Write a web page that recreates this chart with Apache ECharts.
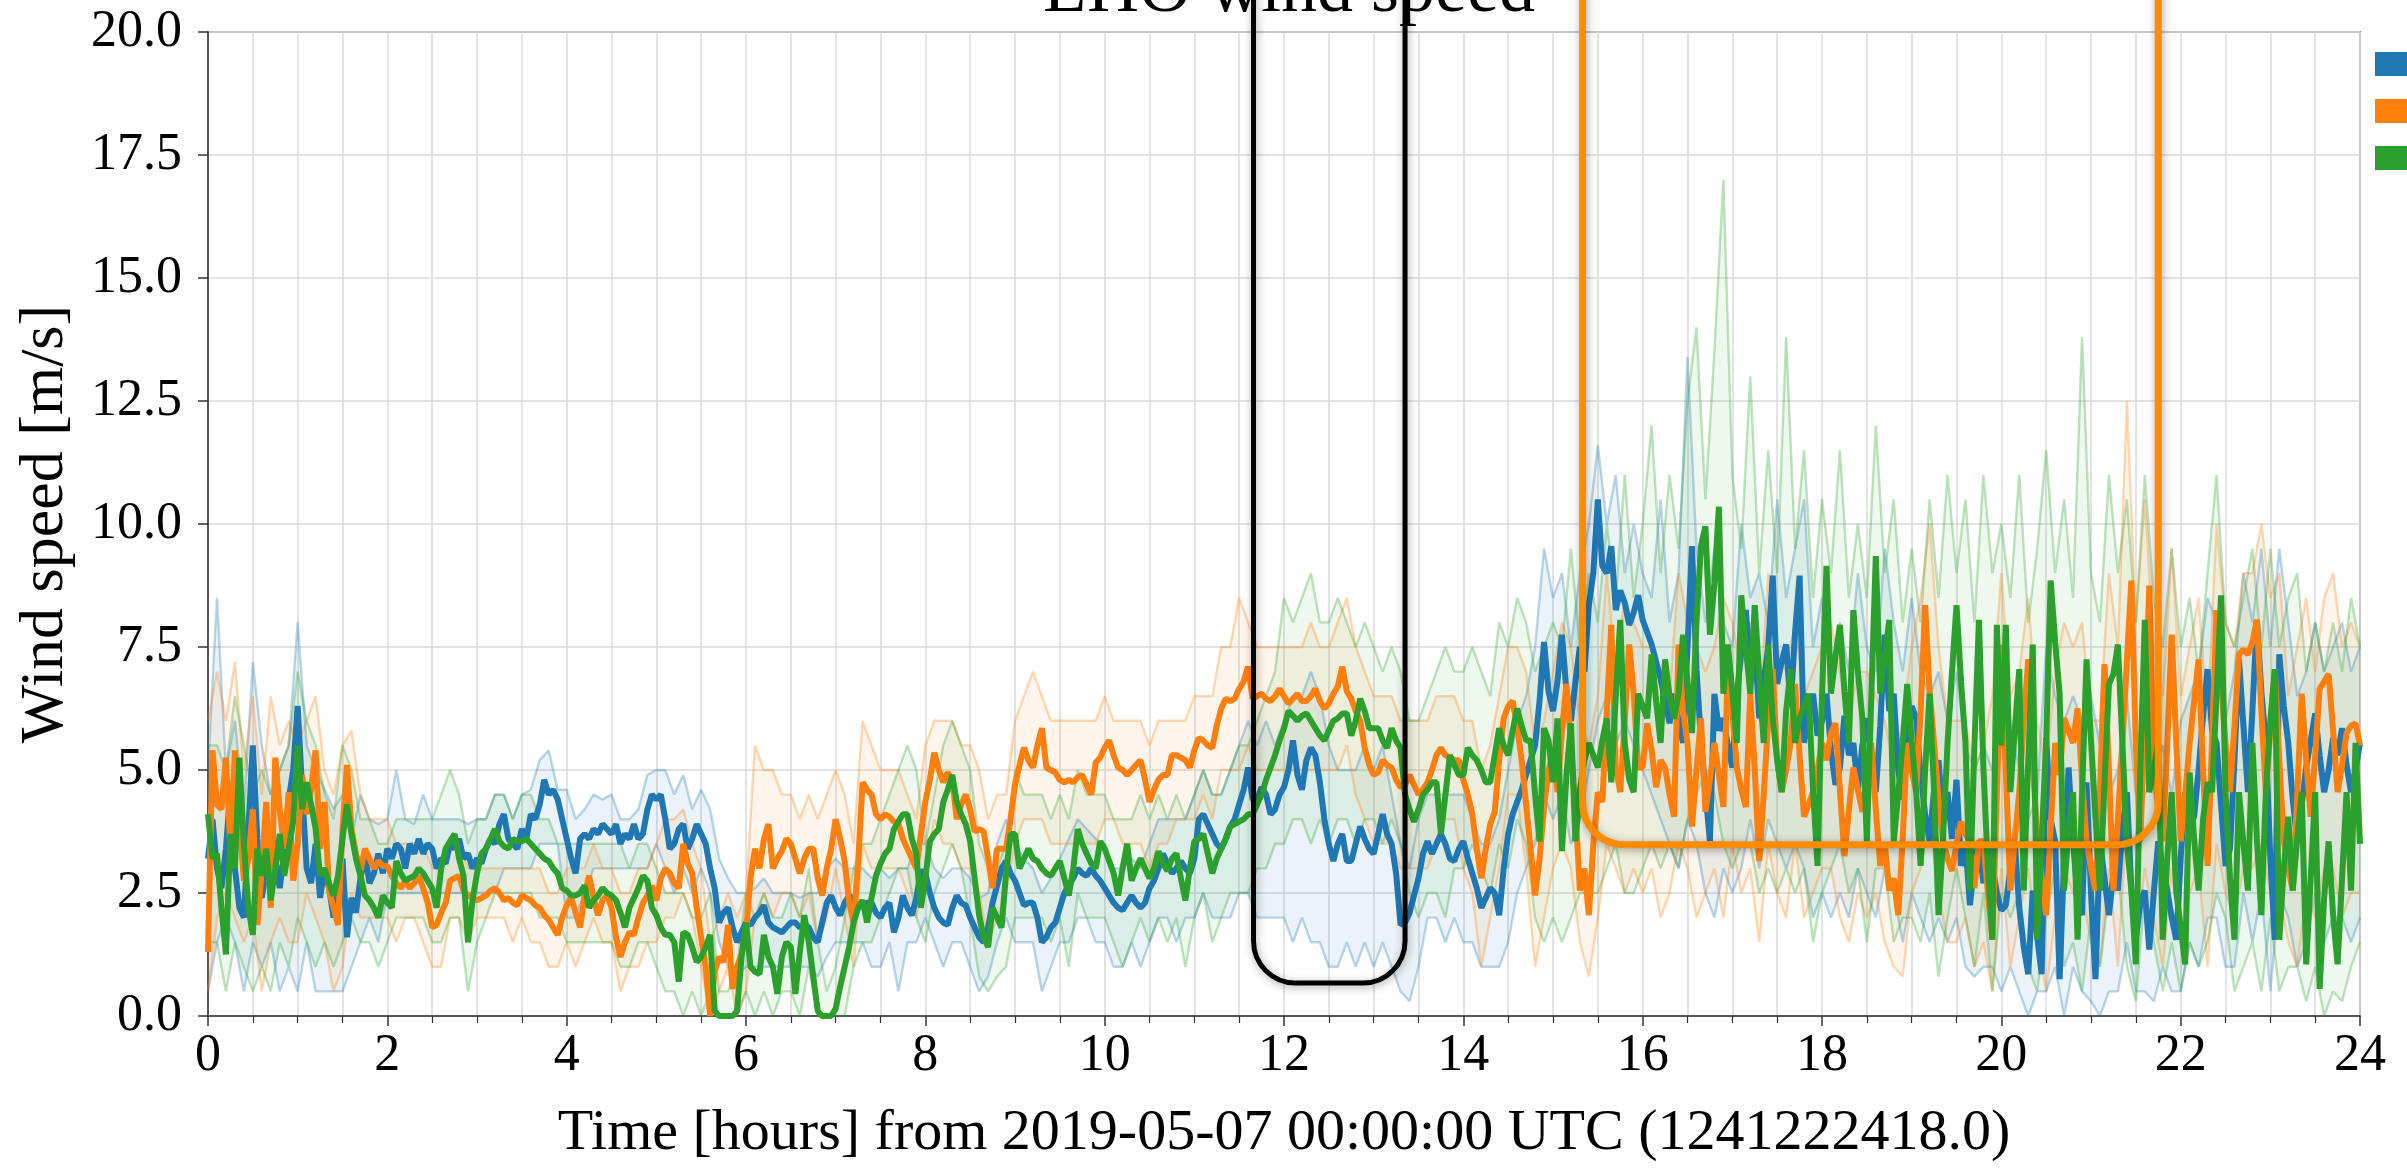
<!DOCTYPE html>
<html>
<head>
<meta charset="utf-8">
<script src="https://cdn.jsdelivr.net/npm/echarts@6/dist/echarts.min.js"></script>
<style>
html,body{margin:0;padding:0;background:#fff;}
#c{width:2407px;height:1168px;}
</style>
</head>
<body>
<div id="c"></div>
<script>
// ---------------- DATA ----------------
const seriesNames = ['EX', 'EY', 'CS'];
const xTicks = [0, 2, 4, 6, 8, 10, 12, 14, 16, 18, 20, 22, 24];
const yTicks = [0, 2.5, 5, 7.5, 10, 12.5, 15, 17.5, 20];
const MEAN_STEP = 0.05;  // hours between mean samples
const BAND_STEP = 0.1;   // hours between min/max samples

// mean wind speed [m/s], one row per hour (20 samples), last value at 24 h
const blueMean = [
3.2,4.0,3.0,2.6,3.4,4.6,3.0,2.2,2.0,3.8,5.5,3.6,2.4,3.0,3.9,3.2,2.6,3.3,4.4,5.0,
6.3,4.6,3.0,2.7,3.5,2.4,3.0,2.6,2.0,2.6,3.2,1.6,2.4,2.1,2.8,3.3,2.7,2.9,3.3,2.9,
3.4,3.2,3.5,3.4,3.0,3.5,3.3,3.6,3.3,3.5,3.4,3.0,3.2,3.1,3.5,3.4,3.6,3.2,3.3,3.0,
3.2,3.1,3.4,3.6,3.5,3.9,4.1,3.6,3.5,3.4,3.8,3.6,4.1,4.0,4.3,4.8,4.5,4.6,4.4,4.0,
3.6,3.2,2.9,3.6,3.7,3.6,3.8,3.7,3.9,3.8,3.7,3.9,3.5,3.7,3.6,3.9,3.6,3.7,4.2,4.5,
4.4,4.5,4.0,3.4,3.5,3.8,3.9,3.4,3.6,3.9,3.7,3.5,3.0,2.6,1.9,2.1,2.2,1.8,1.5,1.7,
1.9,1.85,2.0,2.1,2.25,1.9,1.8,1.75,1.7,1.8,1.9,1.9,1.8,1.85,1.8,1.6,1.5,1.9,2.3,2.45,
2.2,2.05,2.3,2.45,2.35,2.2,2.25,2.3,2.3,2.1,2.0,2.2,2.3,1.7,2.0,2.45,2.2,2.05,2.4,2.95,
2.9,2.5,2.2,2.0,1.9,1.85,2.2,2.45,2.3,2.25,2.0,1.8,1.6,1.5,1.8,2.3,2.65,3.0,3.15,2.9,
2.75,2.5,2.25,2.3,2.3,2.0,1.5,1.6,1.8,1.9,2.2,2.5,2.65,2.8,3.0,2.9,2.85,3.0,2.85,2.75,
2.6,2.45,2.3,2.2,2.15,2.3,2.45,2.3,2.2,2.3,2.6,2.75,3.0,3.3,3.1,2.9,3.0,3.15,3.0,2.9,
3.2,4.0,4.1,3.9,3.7,3.5,3.4,3.6,3.85,4.0,4.3,4.6,5.05,4.4,4.4,4.65,4.5,4.1,4.2,4.5,
4.65,5.0,5.6,4.9,4.6,5.2,5.45,5.3,4.75,4.0,3.5,3.15,3.5,3.7,3.15,3.15,3.5,3.85,3.6,3.4,
3.3,3.7,4.1,3.7,3.5,2.9,1.85,1.9,2.1,2.45,2.8,3.3,3.55,3.3,3.5,3.7,3.5,3.2,3.15,3.4,
3.55,3.2,2.9,2.6,2.2,2.4,2.6,2.5,2.05,3.0,3.7,4.1,4.35,4.6,4.9,5.2,5.5,6.4,7.6,6.6,
6.2,6.8,7.75,6.6,6.0,6.8,7.5,7.0,8.35,9.0,10.5,9.15,9.0,9.55,8.25,8.65,8.4,7.95,8.2,8.55,
8.05,7.8,7.55,7.2,6.85,6.4,5.95,6.55,6.0,5.55,7.5,9.55,7.05,5.6,4.55,3.55,6.55,5.8,6.05,5.5,
5.05,6.5,7.4,8.25,7.05,7.6,6.05,6.8,7.5,8.95,6.75,7.2,7.55,6.3,7.8,8.95,5.55,6.2,6.55,5.7,
6.0,6.55,5.4,4.7,5.05,6.1,5.3,5.55,4.6,5.5,6.05,5.2,4.55,5.9,7.75,6.2,6.55,5.0,4.4,5.55,
6.3,6.05,4.9,4.1,3.55,4.6,5.2,4.0,4.55,3.6,4.8,3.05,3.5,2.25,3.1,3.55,2.7,3.5,3.05,2.5,
2.15,2.25,3.0,3.55,2.2,1.4,0.85,2.55,1.6,0.85,5.65,4.0,3.55,0.75,3.2,5.05,3.55,2.4,2.05,4.75,
2.5,0.75,3.55,2.8,2.05,2.9,2.55,3.8,4.55,2.6,1.55,2.3,2.55,1.35,2.5,3.55,3.0,2.55,2.0,1.55,
3.2,4.55,3.9,4.05,5.0,6.1,7.05,5.8,5.55,4.3,3.05,3.4,5.2,7.25,5.9,4.55,6.2,8.05,6.6,5.55,
3.2,1.55,7.35,6.3,5.55,4.4,3.55,4.3,5.05,5.6,6.15,5.3,4.55,5.0,5.65,5.3,5.85,5.1,4.55,5.0,
5.55];

const orangeMean = [
1.3,5.4,4.3,4.2,5.25,3.4,5.4,4.0,2.75,3.2,4.2,1.85,3.0,4.35,2.2,5.25,4.2,3.4,4.55,2.75,
3.5,4.9,4.1,4.6,5.4,3.4,4.35,2.55,2.2,1.85,3.8,5.1,3.8,3.3,2.95,3.4,3.2,3.0,3.15,3.05,
3.05,2.85,2.7,2.6,2.75,2.6,2.7,2.85,2.6,2.3,1.8,1.85,2.1,2.3,2.75,2.8,2.85,2.55,2.45,2.4,
2.35,2.4,2.45,2.55,2.6,2.5,2.35,2.4,2.3,2.25,2.45,2.4,2.35,2.25,2.2,2.05,1.95,1.8,1.65,2.0,
2.25,2.4,2.1,1.8,2.45,2.85,2.4,2.05,2.35,2.45,2.2,1.6,1.2,1.5,1.7,1.65,2.0,2.3,2.45,2.65,
2.35,2.8,3.0,2.9,2.7,2.6,3.5,3.1,2.9,2.2,1.6,1.0,0.0,0.9,1.2,1.1,1.85,0.55,1.0,1.25,
1.7,2.8,3.4,3.0,3.6,3.9,3.0,3.2,3.35,3.6,3.5,3.2,2.9,3.2,3.4,3.4,2.8,2.45,3.0,3.4,
4.0,3.6,3.15,2.3,1.9,3.1,4.75,4.6,4.5,4.1,4.0,4.1,4.05,3.95,3.9,3.6,3.4,3.2,3.0,3.7,
4.35,4.8,5.35,5.0,4.75,4.95,4.8,4.0,4.3,4.5,4.2,3.75,3.8,3.75,3.2,2.6,3.4,3.4,3.4,4.0,
4.7,5.1,5.45,5.2,5.05,5.5,5.85,5.05,5.0,4.95,4.8,4.75,4.8,4.75,4.85,4.9,4.7,4.5,5.15,5.25,
5.45,5.6,5.3,5.05,5.0,4.9,5.0,5.1,5.2,4.8,4.35,4.6,4.8,4.9,4.9,5.3,5.3,5.25,5.2,5.05,
5.4,5.65,5.6,5.5,5.45,5.9,6.25,6.45,6.4,6.45,6.65,6.8,7.1,6.45,6.5,6.55,6.45,6.4,6.5,6.65,
6.5,6.35,6.45,6.55,6.4,6.4,6.5,6.65,6.4,6.25,6.35,6.55,6.7,7.1,6.6,6.45,6.2,6.0,5.45,5.1,
4.9,4.95,5.2,5.1,5.05,4.8,4.65,4.7,4.9,4.7,4.5,4.6,4.75,5.0,5.3,5.45,5.3,5.25,5.2,5.2,
4.8,4.5,4.1,3.4,2.8,3.4,3.9,4.15,5.2,6.05,6.3,6.4,5.9,5.2,4.3,3.4,2.45,3.2,4.25,5.0,
5.35,4.55,5.8,6.75,5.55,4.2,2.55,3.0,2.05,3.5,4.55,4.35,6.2,7.95,5.05,4.55,6.0,7.55,6.55,5.05,
5.05,5.95,5.4,4.65,5.2,5.05,4.5,4.05,7.55,6.2,5.55,3.85,5.0,6.05,4.15,4.8,5.55,4.9,4.25,7.05,
6.2,5.05,4.6,4.25,6.55,5.0,3.15,4.5,6.0,7.05,5.2,4.55,5.0,5.55,6.75,5.3,4.05,4.3,4.55,5.0,
5.55,5.2,5.75,5.95,4.6,3.25,4.2,5.05,4.6,4.15,4.9,5.55,4.2,3.05,3.5,2.55,2.8,2.05,3.6,5.55,
5.0,4.55,6.2,8.35,6.6,5.55,4.4,3.55,3.2,2.95,3.5,3.95,3.7,3.55,2.6,3.55,3.55,2.5,1.55,4.5,
7.55,5.0,2.55,3.6,4.55,6.0,7.25,5.2,3.55,2.8,2.05,3.8,5.55,4.9,6.05,5.8,5.55,6.25,4.8,3.55,
3.0,2.55,4.6,7.15,5.0,2.55,4.0,5.55,7.2,8.85,5.5,3.55,6.0,8.75,5.05,4.2,3.55,5.5,7.75,5.6,
3.55,4.5,5.55,6.4,7.25,5.0,3.05,5.6,8.25,6.8,5.55,4.55,5.9,7.35,7.45,7.35,7.6,8.05,6.2,4.55,
5.8,7.05,5.2,3.55,3.0,2.55,4.5,6.55,5.2,4.05,5.3,6.65,6.8,6.95,5.8,4.55,5.1,5.75,5.9,5.95,
5.5];

const greenMean = [
4.1,3.2,3.3,2.2,1.25,3.7,3.0,5.25,3.5,2.2,1.65,3.4,2.85,3.4,2.35,3.0,3.7,2.85,3.4,3.95,
5.5,4.2,4.75,4.3,3.8,2.85,3.0,2.7,2.45,2.85,3.6,4.3,3.7,3.2,2.85,2.45,2.35,2.2,2.0,2.45,
2.3,2.2,3.15,2.9,2.75,2.8,2.85,3.0,2.9,2.75,2.6,2.2,3.0,3.4,3.55,3.7,3.2,2.85,1.5,2.35,
2.9,3.3,3.4,3.6,3.8,3.55,3.45,3.4,3.6,3.55,3.55,3.6,3.5,3.4,3.3,3.2,3.15,3.0,2.9,2.6,
2.55,2.45,2.45,2.5,2.65,2.2,2.35,2.45,2.6,2.5,2.45,2.35,2.1,1.8,2.2,2.4,2.6,2.85,2.75,2.2,
2.05,1.8,1.65,1.65,1.5,0.7,1.7,1.65,1.4,1.1,1.2,1.4,1.65,0.1,0.0,0.0,0.0,0.0,0.1,1.2,
1.9,1.0,0.9,0.85,1.65,1.2,1.0,0.45,1.2,1.5,1.4,0.45,1.3,2.05,1.5,0.8,0.1,0.0,0.0,0.0,
0.15,0.6,1.0,1.4,1.9,2.2,2.35,1.9,2.4,2.85,3.1,3.3,3.4,3.8,3.95,4.1,4.1,3.6,3.3,2.2,
2.8,3.55,3.7,3.8,4.35,4.6,4.9,4.35,4.1,3.9,3.55,2.8,2.05,1.6,1.4,2.2,2.0,1.8,2.9,3.7,
3.7,3.0,3.2,3.4,3.2,3.15,3.0,2.9,2.85,3.0,3.15,2.8,2.45,3.0,3.8,3.5,3.3,3.1,3.0,3.55,
3.4,3.15,2.9,2.45,3.0,3.5,2.75,3.0,3.2,3.0,2.8,3.0,3.35,3.1,2.95,3.2,3.3,2.8,2.35,3.0,
3.55,3.6,3.7,3.3,2.9,3.2,3.4,3.6,3.85,3.9,3.95,4.0,4.1,4.1,4.3,4.5,4.8,5.05,5.3,5.6,
5.85,6.2,6.1,6.0,6.1,6.15,6.0,5.85,5.7,5.6,5.8,6.0,6.05,6.15,6.15,5.7,6.0,6.45,6.2,5.85,
5.85,5.85,5.6,5.45,5.85,5.6,5.45,4.5,4.2,3.95,4.2,4.5,4.6,4.75,4.75,3.7,4.5,5.3,5.1,4.9,
4.9,5.45,5.3,5.2,5.0,4.75,4.75,5.3,5.85,5.5,5.3,5.8,6.25,5.9,5.6,5.6,4.5,3.55,5.85,5.6,
4.75,6.05,3.35,4.9,5.95,3.55,4.6,5.2,5.55,5.3,5.05,5.6,6.05,4.75,6.5,8.05,5.55,4.8,4.55,6.55,
6.3,6.05,7.35,6.4,5.55,7.25,6.5,6.05,6.55,7.75,6.8,5.75,8.0,9.55,9.95,7.75,8.8,10.35,6.55,7.55,
6.6,5.55,8.55,7.5,6.55,8.35,6.9,5.55,7.55,6.05,5.2,4.55,6.2,7.05,5.55,6.05,6.3,6.55,4.6,3.05,
6.5,9.15,6.55,7.3,7.95,6.6,5.55,8.25,7.0,6.05,3.55,6.5,9.35,6.55,7.3,8.05,3.55,4.5,5.55,6.75,
5.6,4.55,3.05,5.0,6.55,4.55,2.05,3.6,5.55,7.0,8.35,6.8,5.55,2.55,5.5,8.05,5.05,3.0,1.55,7.95,
5.5,7.95,4.55,5.8,7.05,2.55,5.2,7.55,1.55,3.6,5.55,8.85,7.6,6.55,2.55,3.8,4.55,1.55,4.5,7.25,
5.6,4.05,2.55,4.7,6.75,6.95,7.55,5.55,3.5,2.55,1.05,5.0,8.05,4.55,5.0,5.55,1.55,3.2,4.55,2.55,
1.8,1.05,4.95,3.6,2.55,4.0,4.75,4.55,6.5,8.55,4.55,2.8,1.55,4.55,3.5,2.55,5.55,3.6,2.05,4.55,
6.0,7.05,1.55,3.0,4.05,2.55,3.6,4.55,1.05,2.8,4.55,0.55,2.4,3.55,2.05,1.05,2.8,4.55,2.55,5.55,
3.5];

// min / max envelopes [m/s], one row per hour (10 samples), last value at 24 h
const blueMax = [
5.0,8.5,5.0,6.0,4.2,7.2,5.5,4.5,5.0,5.5,
8.0,5.5,5.0,4.6,4.2,4.5,3.6,4.5,4.0,3.9,
4.0,5.0,4.0,3.9,4.5,4.0,4.0,4.0,4.0,3.9,
4.0,4.0,4.5,4.5,4.0,4.5,4.6,5.2,5.4,4.6,
4.6,4.0,4.2,4.5,4.4,4.5,4.0,4.0,4.2,4.9,
5.0,5.0,4.5,4.9,4.2,4.6,4.2,3.2,2.8,2.5,
2.5,2.6,2.8,2.5,2.5,2.5,2.4,2.5,2.5,3.0,
3.2,3.0,3.0,3.0,2.8,3.0,2.8,3.0,3.0,3.5,
3.5,3.0,2.8,3.0,3.0,2.8,2.4,2.5,3.5,4.0,
3.5,3.2,3.0,2.5,2.8,3.2,3.6,4.0,3.8,3.6,
3.5,3.0,3.0,3.2,3.0,3.5,4.0,4.0,4.0,4.0,
4.5,5.0,4.5,4.5,5.0,5.5,6.0,5.5,6.0,5.5,
6.0,6.5,6.5,7.0,6.5,5.5,5.0,5.0,5.0,5.5,
5.0,5.5,4.5,3.5,3.0,4.0,4.5,4.5,4.5,4.5,
4.5,4.0,3.5,3.5,4.0,5.0,6.0,6.5,7.5,9.5,
8.5,9.0,7.5,9.0,10.0,11.6,10.0,11.0,9.0,10.0,
9.0,8.5,10.5,8.0,9.0,13.4,9.5,8.0,9.5,8.0,
7.5,10.0,8.5,9.0,8.0,10.5,8.5,9.5,10.5,7.5,
8.5,7.0,8.0,7.0,9.0,7.5,7.0,9.5,8.0,7.0,
8.5,7.0,6.5,7.0,6.0,7.0,5.5,5.0,5.5,5.0,
5.5,6.0,5.0,4.0,4.5,7.5,6.5,6.0,6.5,6.0,
6.5,5.5,4.5,5.0,6.5,4.5,4.5,5.0,5.5,4.5,
6.0,6.5,7.0,8.5,8.0,6.0,7.0,9.0,8.0,9.5,
7.5,9.5,8.0,6.5,7.0,8.0,7.0,7.5,8.0,7.0,
7.5];
const blueMin = [
0.5,1.5,2.0,1.5,0.5,1.5,1.0,1.5,0.5,1.0,
0.5,1.5,0.5,0.5,0.5,0.5,1.0,1.5,2.0,1.5,
2.5,2.5,2.5,2.5,2.5,2.5,2.5,2.5,2.5,2.5,
2.5,2.5,2.5,3.0,3.0,3.0,3.0,3.5,3.5,3.5,
2.0,2.0,2.5,3.0,3.0,3.0,3.0,3.0,3.0,3.0,
3.5,3.0,2.5,3.0,2.5,3.0,2.5,1.5,1.0,0.8,
1.0,1.0,1.0,1.0,1.0,1.0,1.0,1.0,0.8,1.2,
1.5,1.5,1.5,1.5,1.0,1.0,1.5,0.5,1.5,1.5,
2.0,1.5,1.0,1.5,1.5,1.0,0.5,0.8,1.5,2.0,
1.5,1.5,1.5,0.5,1.0,1.5,1.5,2.0,2.0,1.5,
1.5,1.0,1.0,1.5,1.0,1.5,2.0,2.0,1.5,2.0,
2.0,2.5,2.0,2.0,2.0,2.5,2.5,2.0,2.0,2.0,
2.0,1.5,2.0,1.5,1.5,1.0,1.0,1.5,1.0,1.5,
1.0,1.5,1.0,0.5,0.3,1.0,2.0,2.0,1.5,2.0,
1.5,1.5,1.0,1.0,1.0,1.5,2.5,3.0,3.5,4.5,
4.0,4.5,3.5,4.0,5.0,6.0,6.5,5.5,6.0,5.5,
5.0,4.5,4.0,3.5,3.0,4.0,3.5,2.5,2.0,3.0,
2.5,3.0,4.0,3.0,4.0,3.5,3.0,3.5,3.0,2.0,
2.5,2.0,2.5,2.0,3.0,2.5,2.0,3.0,2.5,1.5,
2.5,2.0,1.5,2.0,1.5,2.0,1.0,0.8,1.0,1.0,
0.5,1.0,0.5,0.0,0.5,0.5,1.0,0.0,1.0,0.5,
0.3,0.0,0.5,0.5,1.5,0.5,0.5,0.3,1.0,0.5,
0.5,1.5,1.0,2.0,2.0,1.0,1.0,2.5,1.5,2.5,
0.5,2.5,2.0,1.0,1.5,2.5,1.5,2.0,2.0,1.5,
2.0];

const orangeMax = [
6.0,7.0,6.0,7.2,5.0,6.5,4.5,6.5,5.5,6.0,
5.5,6.0,6.5,5.0,4.5,5.5,5.8,4.5,4.0,4.0,
4.0,3.5,3.5,3.5,3.5,3.0,3.0,3.5,3.5,3.0,
3.0,3.0,3.0,3.0,3.0,3.0,3.0,3.0,2.5,2.5,
3.0,3.0,3.0,3.5,3.0,3.0,2.5,2.5,3.0,3.0,
3.5,4.0,4.0,4.2,3.5,3.0,1.5,2.0,2.5,2.0,
2.5,5.5,5.0,5.0,4.5,4.5,4.0,4.5,4.0,4.5,
5.0,4.5,3.5,6.0,5.5,5.0,5.0,5.0,4.5,4.0,
5.5,6.0,6.0,6.0,5.5,5.5,5.0,4.0,4.5,4.5,
6.0,6.5,7.0,6.5,6.0,6.0,6.0,6.0,6.0,6.0,
6.5,6.0,6.0,6.0,6.0,5.5,6.0,6.0,6.0,6.0,
6.5,6.5,6.5,7.5,7.5,8.5,8.0,7.5,7.5,7.5,
7.5,7.5,7.5,8.0,7.5,7.5,8.0,8.5,7.5,7.0,
6.5,6.5,6.5,6.0,6.0,6.0,6.0,6.5,6.5,6.5,
6.0,6.0,5.0,5.5,6.5,7.5,7.5,7.0,5.5,6.0,
7.0,8.0,7.5,6.0,5.5,6.5,9.0,7.0,8.5,8.0,
7.5,7.5,7.0,6.5,9.0,8.0,7.5,7.0,7.5,8.5,
8.0,7.0,8.0,6.0,9.0,7.5,7.0,8.0,6.5,7.0,
7.5,8.0,7.0,6.0,7.0,7.0,6.5,6.0,5.0,6.0,
7.5,8.5,10.0,7.5,6.0,6.0,6.0,5.0,5.5,6.5,
9.0,6.5,7.0,8.5,6.0,5.0,7.0,8.0,7.5,8.0,
6.0,6.0,9.0,7.5,12.5,8.0,10.5,7.5,6.5,9.5,
6.5,7.5,8.5,6.0,10.0,8.0,7.5,9.0,9.0,10.0,
8.5,9.0,6.5,7.5,8.5,7.0,8.5,9.0,7.5,8.0,
7.5];
const orangeMin = [
0.5,2.0,2.5,2.0,1.5,2.0,0.5,1.5,2.0,1.5,
1.5,2.5,2.0,1.5,0.5,1.0,2.5,2.0,2.0,2.0,
2.0,1.5,2.0,2.0,1.5,1.0,1.0,2.0,2.0,1.5,
2.0,2.0,2.0,2.0,1.5,2.0,1.5,1.5,1.0,1.0,
1.5,1.0,1.5,2.0,1.5,1.5,0.5,1.0,1.0,1.5,
1.5,2.0,2.0,2.5,2.0,1.0,0.0,0.5,1.0,0.0,
0.5,2.0,2.5,2.0,2.5,2.5,2.0,2.5,1.5,2.0,
3.0,2.0,1.0,3.5,3.0,3.0,3.0,3.0,2.5,2.0,
3.0,4.0,3.5,3.5,3.0,3.0,2.5,1.5,2.0,2.5,
3.5,4.0,4.0,4.0,3.5,3.5,3.5,3.5,3.5,3.5,
4.0,4.0,3.5,3.5,3.5,3.0,3.5,3.5,4.0,4.0,
4.0,4.5,4.0,5.0,5.0,5.0,5.5,5.0,5.0,5.0,
5.0,5.0,5.0,5.0,5.0,5.0,5.0,5.5,4.5,4.0,
3.5,3.5,3.5,3.0,3.0,3.0,3.0,3.5,4.0,4.0,
3.0,2.5,1.0,2.0,3.0,4.5,4.5,3.0,1.0,2.0,
3.0,3.5,3.0,1.5,0.8,2.0,3.5,3.0,2.5,3.0,
2.5,3.0,2.0,2.5,3.5,3.0,2.0,2.5,3.0,2.0,
3.5,2.5,3.0,1.5,3.5,2.5,2.0,3.5,2.0,2.5,
3.0,3.0,2.0,1.5,2.5,2.0,2.5,1.5,1.0,0.8,
2.5,3.0,4.0,2.5,1.5,1.5,2.0,1.0,1.5,0.5,
3.0,1.0,2.0,3.0,1.5,0.5,2.0,3.0,2.5,2.5,
1.5,1.0,3.0,1.0,4.0,1.5,3.0,2.0,1.0,3.0,
1.5,2.5,3.0,1.0,3.5,2.5,2.0,3.0,3.0,3.5,
2.5,2.5,1.5,1.0,2.5,2.0,3.0,3.0,2.0,2.5,
2.5];

const greenMax = [
5.5,5.5,5.0,6.5,5.5,4.5,5.0,4.5,5.0,5.5,
7.0,6.0,5.5,4.5,4.0,5.5,5.0,4.0,4.0,3.5,
3.5,4.0,4.0,4.0,4.0,4.0,4.5,5.0,4.5,3.5,
4.0,4.0,4.5,4.5,4.0,4.5,4.5,4.0,4.0,3.5,
3.5,3.5,3.5,3.5,3.5,3.5,3.5,3.0,3.5,3.5,
3.0,2.5,2.5,2.5,2.0,2.0,2.5,0.5,0.5,1.0,
2.5,2.0,2.5,2.0,2.0,2.5,2.0,3.0,1.5,0.5,
1.0,2.0,3.0,3.5,3.5,4.0,4.5,5.0,5.5,5.0,
3.5,4.5,5.5,6.0,5.5,5.0,3.5,3.0,3.0,3.5,
5.0,4.5,4.5,4.5,4.0,4.5,4.0,5.0,4.5,4.5,
4.5,4.0,4.0,4.0,4.5,4.0,4.5,4.0,4.5,4.0,
4.5,5.0,4.5,4.5,5.0,5.5,5.5,6.0,6.5,7.0,
8.5,8.0,8.5,9.0,8.0,8.0,8.5,8.0,7.5,8.0,
7.5,7.0,7.5,7.0,6.0,6.0,6.5,7.0,7.5,7.0,
7.0,7.5,7.0,6.5,8.0,7.5,8.5,8.0,7.0,7.5,
8.0,7.5,9.5,7.5,9.0,8.0,10.0,8.5,11.0,8.5,
10.0,12.0,9.0,11.0,9.5,12.5,14.0,10.5,13.5,17.0,
11.0,9.5,13.0,9.0,11.5,9.0,13.8,9.5,11.5,8.5,
10.5,9.0,11.5,8.5,10.0,8.5,12.0,9.0,10.5,8.0,
9.5,8.0,10.5,8.5,11.0,9.0,10.5,8.0,11.0,9.0,
10.0,8.5,11.0,8.0,9.5,11.5,9.0,10.5,8.5,13.8,
9.0,8.0,11.0,9.0,10.5,8.0,11.0,8.5,7.5,9.5,
7.5,8.5,7.0,9.0,11.0,8.0,7.5,8.5,9.5,7.5,
9.5,7.5,8.5,9.0,7.0,8.0,7.0,8.0,7.0,8.5,
7.5];
const greenMin = [
1.5,1.5,0.5,1.5,1.0,0.5,1.0,0.5,1.5,1.0,
2.0,1.5,1.0,1.5,1.0,1.5,2.0,1.5,1.5,1.0,
1.5,2.0,2.0,2.0,2.0,1.5,1.5,2.0,2.0,0.5,
1.5,2.0,2.5,2.5,2.5,2.5,2.5,2.0,2.0,2.0,
1.5,1.5,1.5,1.5,1.5,1.5,1.0,1.0,1.5,1.5,
1.0,0.5,0.5,0.0,0.5,0.0,0.5,0.0,0.0,0.0,
0.5,0.0,0.5,0.0,0.5,0.5,0.0,1.0,0.0,0.0,
0.0,0.0,1.0,1.5,1.5,2.0,2.5,3.0,3.0,2.0,
1.5,2.5,3.0,3.5,3.0,2.0,0.8,0.5,0.8,1.0,
2.0,2.0,2.0,2.0,1.5,2.0,1.0,2.5,2.0,2.0,
2.0,1.5,1.0,1.5,2.0,1.5,2.0,1.5,2.0,1.0,
2.0,2.5,1.5,2.0,2.5,2.5,2.5,3.0,3.0,3.5,
3.5,4.0,4.0,3.5,4.0,3.5,4.0,4.0,3.5,4.0,
4.0,3.5,4.0,3.5,2.5,2.0,2.5,2.5,2.0,3.0,
3.0,3.5,3.0,2.5,3.5,3.0,4.0,3.5,2.0,1.5,
2.0,1.5,2.0,2.5,2.5,2.5,3.0,3.5,2.5,2.5,
3.0,3.5,3.0,3.5,3.0,4.0,4.5,5.0,4.5,3.5,
3.0,3.5,3.5,2.5,3.0,2.5,3.0,2.5,3.0,1.5,
2.5,3.0,3.5,2.5,3.0,1.5,3.0,3.0,1.5,2.0,
2.0,1.5,2.5,0.8,2.0,3.0,2.0,1.0,2.5,0.5,
2.5,2.0,2.5,1.0,0.5,2.0,3.0,1.0,1.5,0.5,
2.0,1.0,2.5,3.0,1.0,0.3,2.5,1.5,0.5,1.5,
0.5,1.5,1.0,1.5,2.5,2.0,0.5,1.0,1.5,0.5,
2.0,0.5,1.0,1.0,0.3,1.0,0.0,0.5,0.3,1.0,
1.5];

// annotation boxes (hours / m/s)
const boxStartHours = [11.66, 15.33];
const boxEndHours   = [13.35, 21.75];
const boxBottomVals = [0.67, 3.48];

// ---------------- STYLE ----------------
const COLORS = ['#1f77b4', '#ff7f0e', '#2ca02c'];
const FILLS = ['rgba(31,119,180,0.09)', 'rgba(255,127,14,0.08)', 'rgba(44,160,44,0.08)'];
const BOX_COLORS = ['#000000', '#ff8c00'];
const BOX_WIDTHS = [5, 7];
const FONT = 'Liberation Serif';

function toPairs(arr, step) {
  return arr.map((v, i) => [Math.round(i * step * 100) / 100, v]);
}

const means = [blueMean, orangeMean, greenMean];
const mins = [blueMin, orangeMin, greenMin];
const maxs = [blueMax, orangeMax, greenMax];

function bandRenderer(k) {
  return function (params, api) {
    if (params.dataIndex !== 0) return null;
    const pts = [];
    for (let i = 0; i < maxs[k].length; i++) pts.push(api.coord([i * BAND_STEP, maxs[k][i]]));
    for (let i = mins[k].length - 1; i >= 0; i--) pts.push(api.coord([i * BAND_STEP, mins[k][i]]));
    return { type: 'polygon', shape: { points: pts }, style: { fill: FILLS[k] }, silent: true };
  };
}

const series = [];
for (let k = 0; k < 3; k++) {
  series.push({
    type: 'custom', name: 'band' + k, renderItem: bandRenderer(k),
    data: [[0, 0]], encode: { x: 0, y: 1 }, z: 1, silent: true, clip: true
  });
  series.push({
    type: 'line', name: 'min' + k, data: toPairs(mins[k], BAND_STEP),
    showSymbol: false, symbol: 'none', z: 2, silent: true,
    lineStyle: { color: COLORS[k], width: 2.4, opacity: 0.3 },
    itemStyle: { color: COLORS[k] }, emphasis: { disabled: true }
  });
  series.push({
    type: 'line', name: 'max' + k, data: toPairs(maxs[k], BAND_STEP),
    showSymbol: false, symbol: 'none', z: 2, silent: true,
    lineStyle: { color: COLORS[k], width: 2.4, opacity: 0.3 },
    itemStyle: { color: COLORS[k] }, emphasis: { disabled: true }
  });
}
for (let k = 0; k < 3; k++) {
  series.push({
    type: 'line', name: seriesNames[k],
    data: toPairs(means[k], MEAN_STEP),
    showSymbol: false, symbol: 'none', z: 3 + k,
    lineStyle: { color: COLORS[k], width: 6 },
    itemStyle: { color: COLORS[k] },
    emphasis: { disabled: true }
  });
}

const gridColor = '#dadada';
const chart = echarts.init(document.getElementById('c'), null, { renderer: 'canvas' });
const option = {
  animation: false,
  backgroundColor: '#ffffff',
  title: {
    text: 'LHO wind speed',
    left: 1284, top: -49, textAlign: 'center',
    textStyle: { fontFamily: FONT, fontSize: 72, fontWeight: 'normal', color: '#000' }
  },
  legend: {
    data: seriesNames,
    orient: 'vertical', left: 2370, top: 47,
    icon: 'rect', itemWidth: 60, itemHeight: 24, itemGap: 23,
    textStyle: { fontFamily: FONT, fontSize: 20, color: '#000' },
    selectedMode: false
  },
  grid: {
    left: 208, right: 47, top: 32, bottom: 152,
    show: true, borderColor: '#8a8a8a', borderWidth: 2, containLabel: false
  },
  xAxis: {
    type: 'value', min: xTicks[0], max: xTicks[xTicks.length - 1], interval: xTicks[1] - xTicks[0],
    name: 'Time [hours] from 2019-05-07 00:00:00 UTC (1241222418.0)',
    nameLocation: 'middle', nameGap: 89,
    nameTextStyle: { fontFamily: FONT, fontSize: 58, color: '#000' },
    axisLine: { show: true, onZero: false, lineStyle: { color: '#555', width: 2 } },
    axisTick: { show: true, length: 10, inside: false, lineStyle: { color: '#333', width: 1.5 } },
    minorTick: { show: true, splitNumber: 4, length: 7, lineStyle: { color: '#333', width: 1.2 } },
    axisLabel: { fontFamily: FONT, fontSize: 52, color: '#000', margin: 14,
      formatter: v => String(v) },
    splitLine: { show: true, lineStyle: { color: gridColor, width: 1.5 } },
    minorSplitLine: { show: true, lineStyle: { color: gridColor, width: 1.5 } }
  },
  yAxis: {
    type: 'value', min: yTicks[0], max: yTicks[yTicks.length - 1], interval: yTicks[1] - yTicks[0],
    name: 'Wind speed [m/s]',
    nameLocation: 'middle', nameGap: 131, nameRotate: 90,
    nameTextStyle: { fontFamily: FONT, fontSize: 62, color: '#000' },
    axisLine: { show: true, onZero: false, lineStyle: { color: '#555', width: 2 } },
    axisTick: { show: true, length: 10, inside: false, lineStyle: { color: '#333', width: 1.5 } },
    axisLabel: { fontFamily: FONT, fontSize: 52, color: '#000', margin: 26,
      formatter: v => v.toFixed(1) },
    splitLine: { show: true, lineStyle: { color: gridColor, width: 1.5 } }
  },
  series: series
};
chart.setOption(option);

// annotation boxes positioned through the chart's own coordinate system
const yTopVal = 24;
const graphics = boxStartHours.map((x0, i) => {
  const p0 = chart.convertToPixel({ gridIndex: 0 }, [x0, yTopVal]);
  const p1 = chart.convertToPixel({ gridIndex: 0 }, [boxEndHours[i], boxBottomVals[i]]);
  return {
    type: 'rect', z: 100, silent: true,
    shape: { x: p0[0], y: p0[1], width: p1[0] - p0[0], height: p1[1] - p0[1], r: 42 },
    style: { fill: 'none', stroke: BOX_COLORS[i], lineWidth: BOX_WIDTHS[i],
      shadowBlur: 8, shadowColor: 'rgba(0,0,0,0.35)', shadowOffsetX: 1, shadowOffsetY: 2 }
  };
});
chart.setOption({ graphic: graphics });
</script>
</body>
</html>
